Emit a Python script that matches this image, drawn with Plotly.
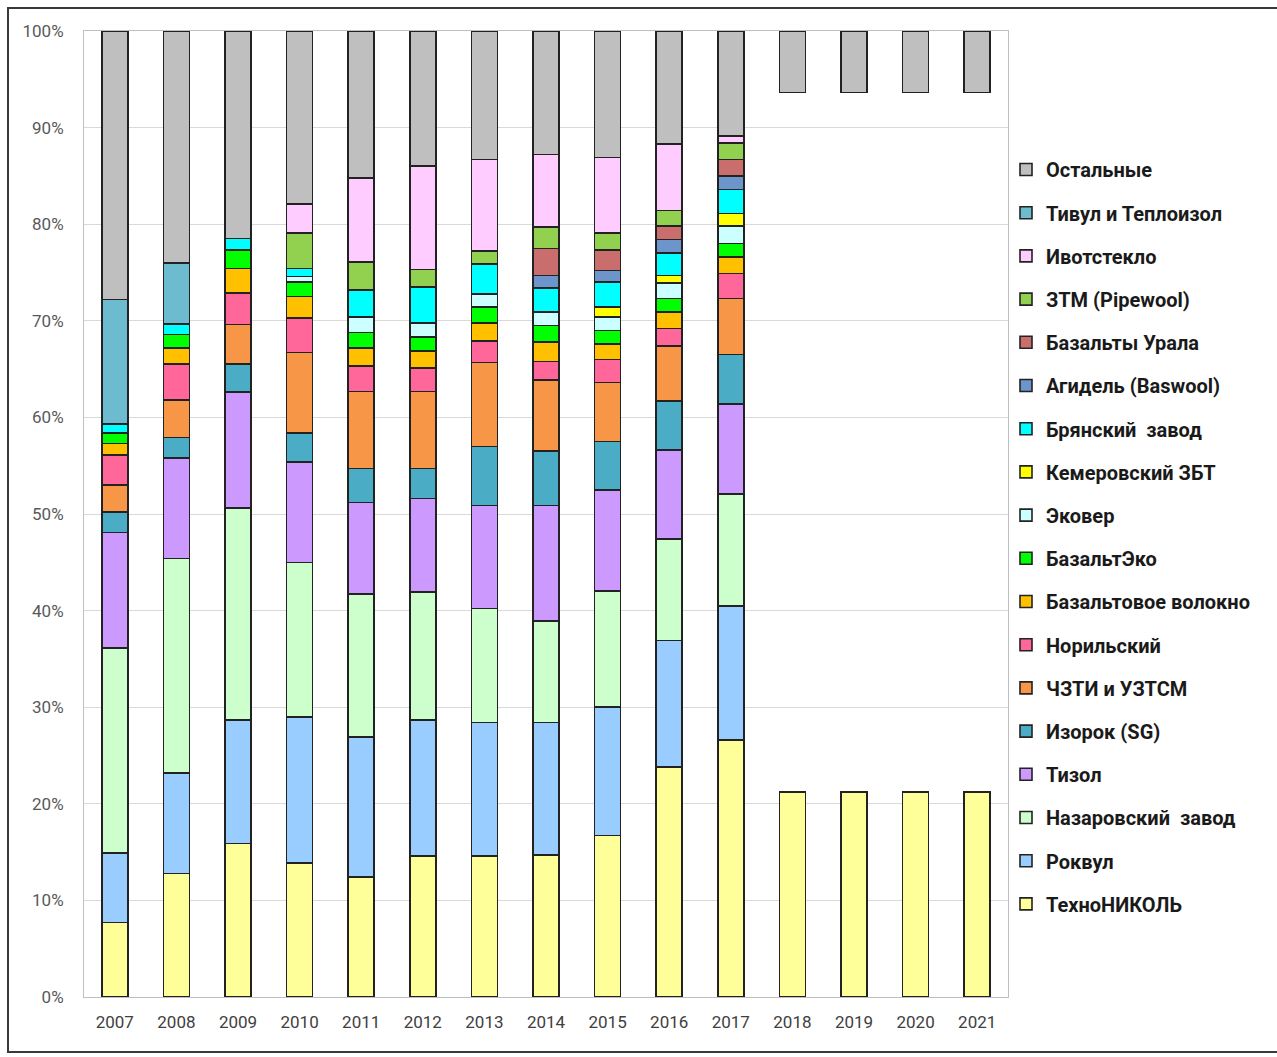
import plotly.graph_objects as go

years = ["2007", "2008", "2009", "2010", "2011", "2012", "2013", "2014",
         "2015", "2016", "2017", "2018", "2019", "2020", "2021"]

N = None
technonikol = [7.7, 12.8, 15.9, 13.9, 12.4, 14.6, 14.6, 14.7, 16.7, 23.8, 26.6, 21.25, 21.25, 21.25, 21.25]
rockwool    = [7.2, 10.4, 12.8, 15.1, 14.5, 14.1, 13.8, 13.7, 13.3, 13.1, 13.9, N, N, N, N]
nazarovo    = [21.2, 22.2, 21.9, 16.0, 14.8, 13.2, 11.8, 10.5, 12.0, 10.5, 11.6, N, N, N, N]
tizol       = [12.0, 10.4, 12.0, 10.4, 9.5, 9.7, 10.7, 12.0, 10.5, 9.2, 9.3, N, N, N, N]
izorok      = [2.1, 2.1, 2.9, 3.0, 3.5, 3.1, 6.1, 5.6, 5.0, 5.1, 5.1, N, N, N, N]
chzti       = [2.8, 3.9, 4.1, 8.3, 8.0, 8.0, 8.7, 7.4, 6.1, 5.7, 5.8, N, N, N, N]
norilsk     = [3.1, 3.7, 3.3, 3.6, 2.6, 2.4, 2.2, 1.9, 2.4, 1.8, 2.6, N, N, N, N]
bazvol      = [1.2, 1.7, 2.5, 2.2, 1.9, 1.8, 1.9, 2.0, 1.6, 1.7, 1.7, N, N, N, N]
bazeko      = [1.1, 1.4, 1.9, 1.5, 1.6, 1.4, 1.6, 1.7, 1.4, 1.4, 1.4, N, N, N, N]
ekover      = [N, N, N, 0.6, 1.6, 1.5, 1.4, 1.4, 1.4, 1.6, 1.8, N, N, N, N]
kemerovo    = [N, N, N, N, N, N, N, N, 1.0, 0.8, 1.3, N, N, N, N]
bryansk     = [0.9, 1.1, 1.2, 0.8, 2.8, 3.7, 3.1, 2.5, 2.6, 2.3, 2.5, N, N, N, N]
agidel      = [N, N, N, N, N, N, N, 1.3, 1.2, 1.4, 1.4, N, N, N, N]
bazural     = [N, N, N, N, N, N, N, 2.8, 2.1, 1.4, 1.7, N, N, N, N]
ztm         = [N, N, N, 3.7, 2.9, 1.8, 1.3, 2.2, 1.8, 1.6, 1.7, N, N, N, N]
ivot        = [N, N, N, 3.0, 8.7, 10.7, 9.5, 7.5, 7.8, 6.9, 0.7, N, N, N, N]
tivul       = [12.9, 6.3, N, N, N, N, N, N, N, N, N, N, N, N, N]
no_data     = [N, N, N, N, N, N, N, N, N, N, N, 72.4, 72.4, 72.4, 72.4]
others      = [27.8, 24.0, 21.5, 17.9, 15.2, 14.0, 13.3, 12.8, 13.1, 11.7, 10.9, 6.35, 6.35, 6.35, 6.35]

y_ticks = list(range(0, 101, 10))
y_tick_labels = [f"{v}%" for v in y_ticks]

series = [
    ("ТехноНИКОЛЬ", technonikol, "#FFFF99"),
    ("Роквул", rockwool, "#99CCFF"),
    ("Назаровский  завод", nazarovo, "#CCFFCC"),
    ("Тизол", tizol, "#CC99FF"),
    ("Изорок (SG)", izorok, "#4BACC6"),
    ("ЧЗТИ и УЗТСМ", chzti, "#F79646"),
    ("Норильский", norilsk, "#FF6699"),
    ("Базальтовое волокно", bazvol, "#FFC000"),
    ("БазальтЭко", bazeko, "#00FF00"),
    ("Эковер", ekover, "#CCFFFF"),
    ("Кемеровский ЗБТ", kemerovo, "#FFFF00"),
    ("Брянский  завод", bryansk, "#00FFFF"),
    ("Агидель (Baswool)", agidel, "#6C95CC"),
    ("Базальты Урала", bazural, "#C96D6D"),
    ("ЗТМ (Pipewool)", ztm, "#92D050"),
    ("Ивотстекло", ivot, "#FFCCFF"),
    ("Тивул и Теплоизол", tivul, "#6DBBCF"),
    (None, no_data, "rgba(0,0,0,0)"),
    ("Остальные", others, "#BFBFBF"),
]

fig = go.Figure()
n = len(series)
for i, (name, vals, col) in enumerate(series):
    if name is None:
        fig.add_trace(go.Bar(x=years, y=vals, marker=dict(color=col, line=dict(width=0)),
                             showlegend=False, hoverinfo="skip", legendgroup="gap",
                             legendrank=2000))
    else:
        fig.add_trace(go.Bar(x=years, y=vals, name=name, legendgroup=f"g{i:02d}",
                             legendrank=n - i,
                             marker=dict(color=col, line=dict(color="#222222", width=1.6))))

W, H = 1277, 1057
L, R, T, B = 84, 1008, 31, 997
pw, ph = R - L, B - T

def px_x(x):
    return (x - L) / pw

def px_y(y):
    return (B - y) / ph

fig.update_layout(
    width=W, height=H,
    margin=dict(l=L, r=W - R, t=T, b=H - B, autoexpand=False),
    barmode="stack",
    bargap=0.58,
    plot_bgcolor="white",
    paper_bgcolor="white",
    font=dict(family="Roboto, Arial, sans-serif", color="#595959"),
    showlegend=True,
    legend=dict(
        x=px_x(1006), y=px_y(150), xanchor="left", yanchor="top",
        traceorder="grouped", tracegroupgap=14.2,
        font=dict(family="Roboto, Arial, sans-serif", size=20, color="#1a1a1a", weight="bold"),
        bgcolor="rgba(0,0,0,0)",
    ),
    xaxis=dict(
        type="category", showline=True, linecolor="#BFBFBF", linewidth=1, mirror=True,
        ticks="", tickfont=dict(size=17, color="#404040"), ticklabelstandoff=10,
        showgrid=False,
    ),
    yaxis=dict(
        range=[0, 100], tickmode="array", tickvals=y_ticks, ticktext=y_tick_labels,
        showline=True, linecolor="#BFBFBF", linewidth=1, mirror=True,
        showgrid=True, gridcolor="#D9D9D9", gridwidth=1,
        tickfont=dict(size=17, color="#595959"), ticklabelstandoff=16, zeroline=False,
    ),
    shapes=[
        dict(type="rect", xref="paper", yref="paper",
             x0=px_x(8), x1=px_x(1300), y0=px_y(1052), y1=px_y(8),
             line=dict(color="#3a3a3a", width=2), fillcolor="rgba(0,0,0,0)", layer="above"),
    ],
)

fig.write_html("out.html")
